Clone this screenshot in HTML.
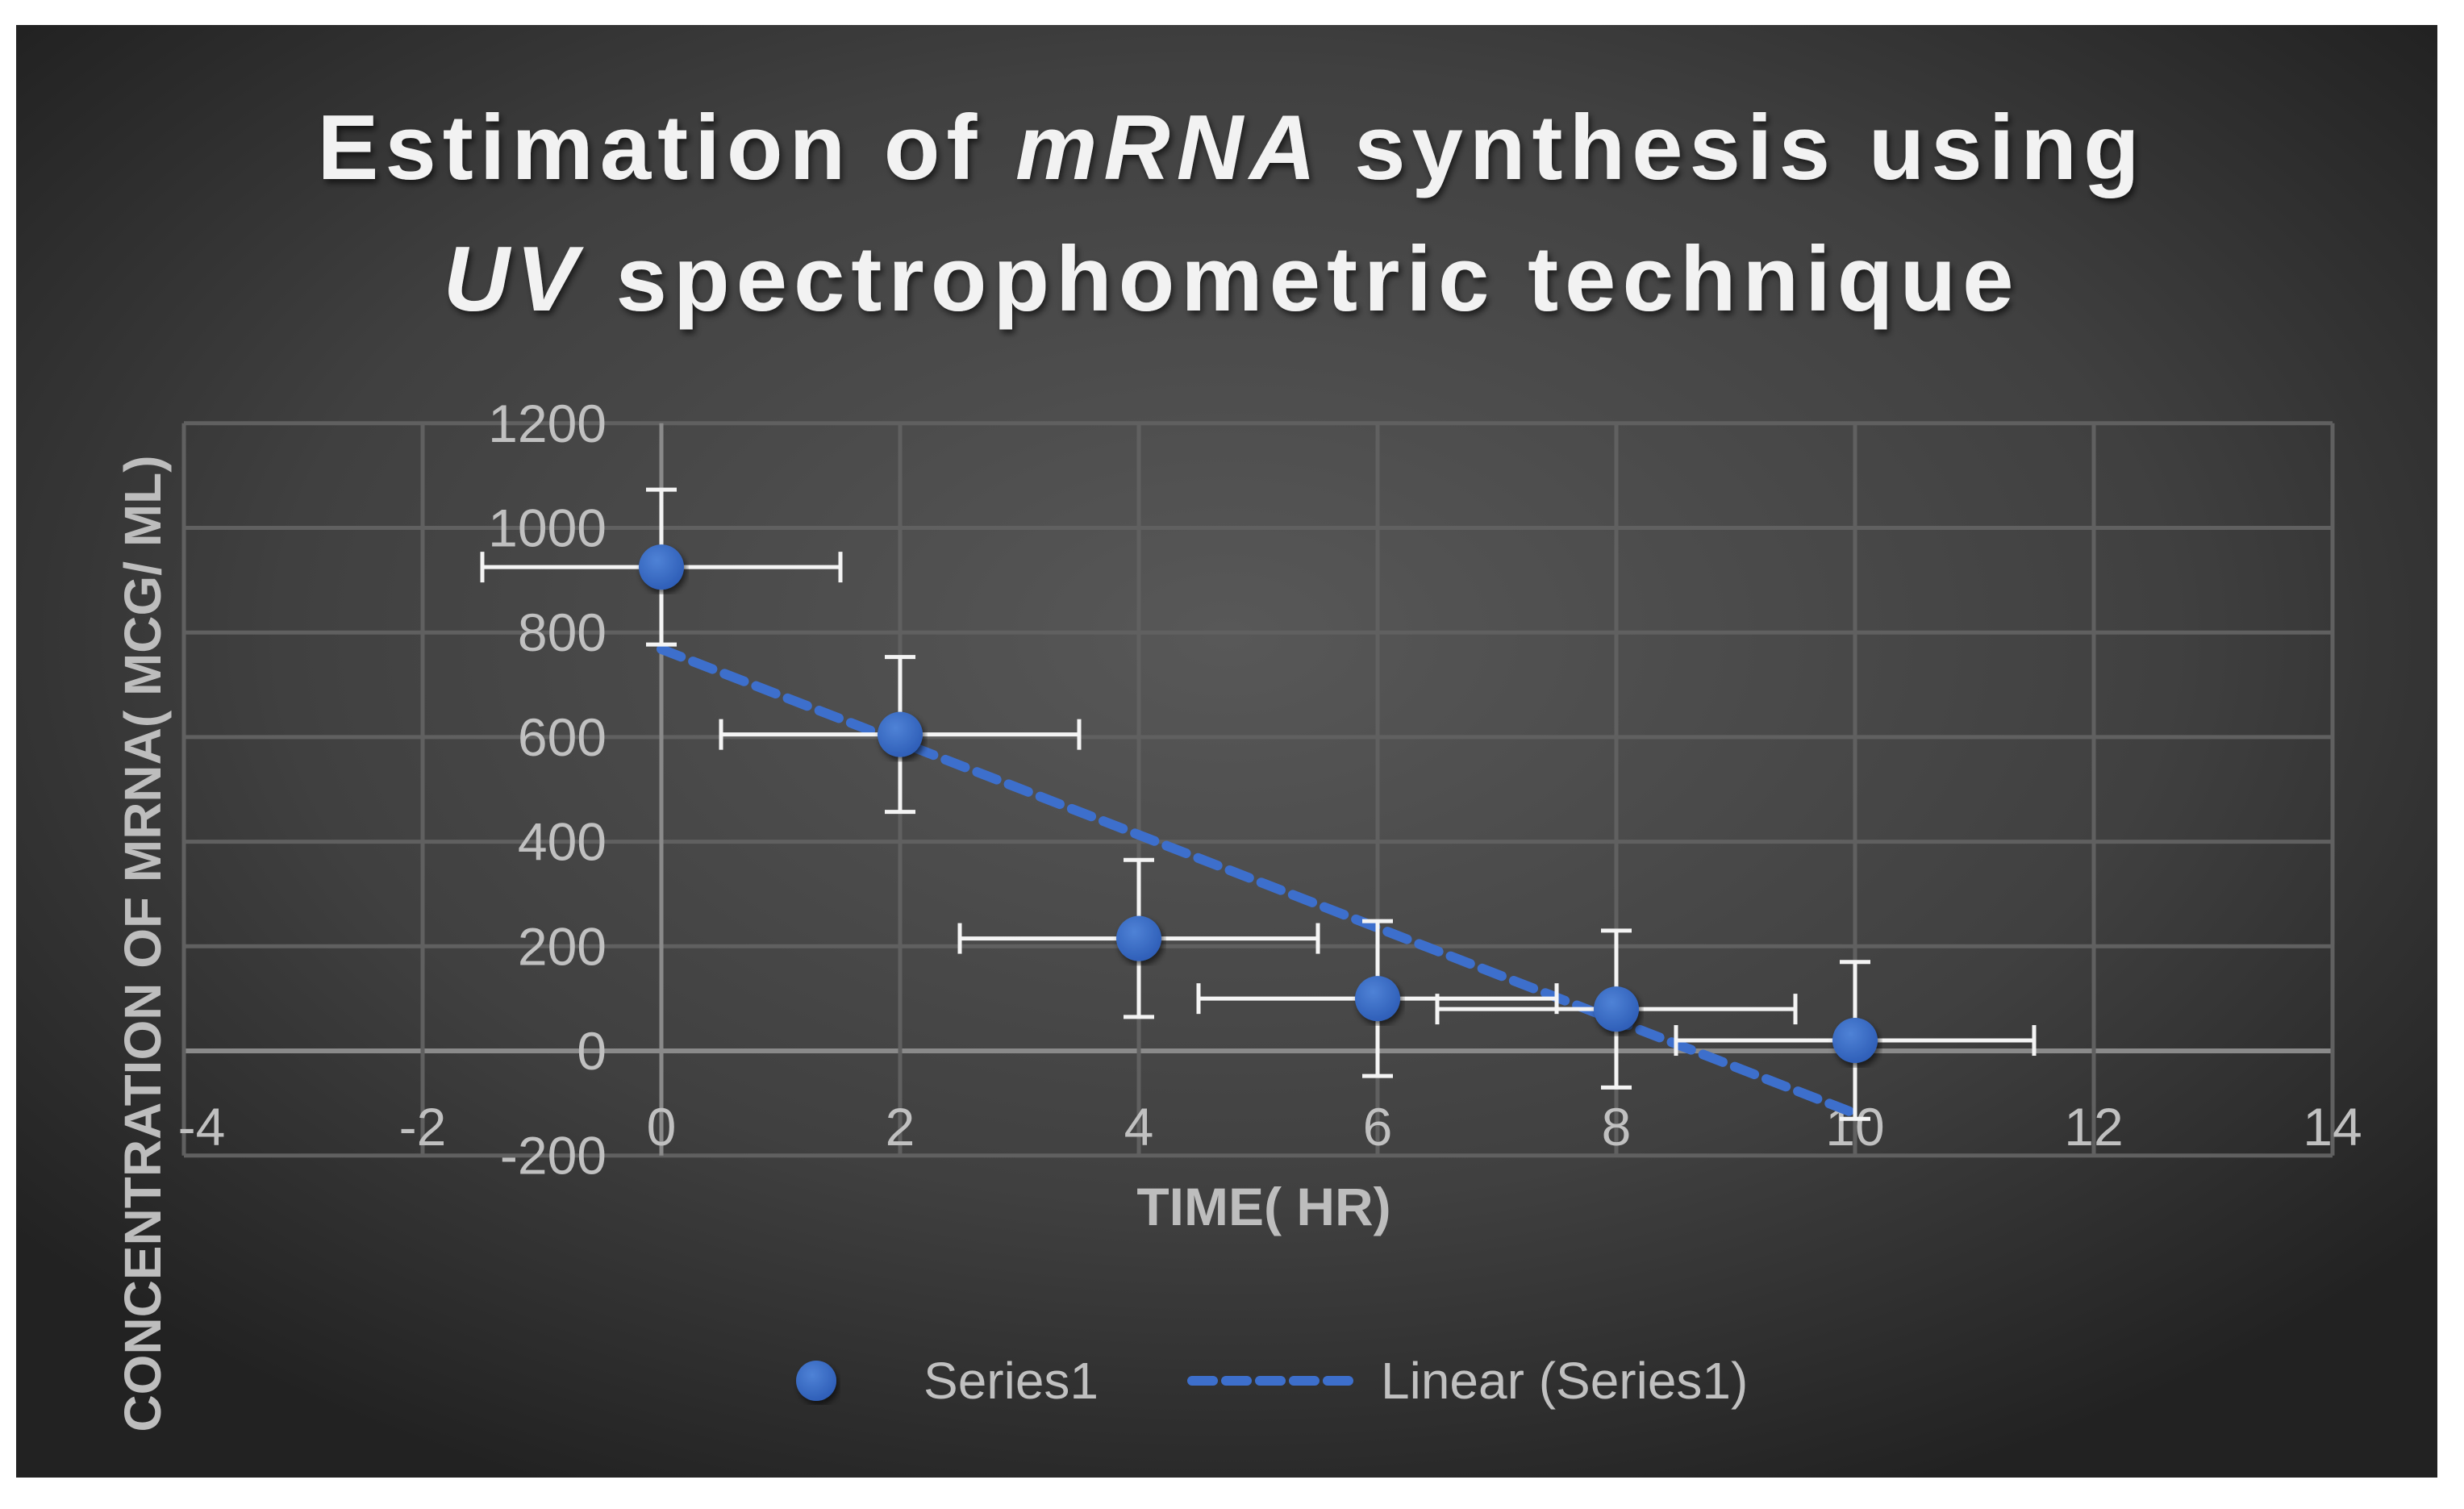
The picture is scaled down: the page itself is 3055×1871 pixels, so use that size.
<!DOCTYPE html>
<html><head><meta charset="utf-8"><style>
html,body{margin:0;padding:0;background:#fff;}
svg{display:block;}
text{font-family:"Liberation Sans",sans-serif;}
</style></head><body>
<svg id="chart" width="3055" height="1871" viewBox="0 0 3055 1871" xmlns="http://www.w3.org/2000/svg">
<defs>
<radialGradient id="bg" cx="50%" cy="42%" r="65%">
<stop offset="0" stop-color="#585858"/><stop offset="0.6" stop-color="#404040"/><stop offset="1" stop-color="#222"/>
</radialGradient>
<radialGradient id="dot" cx="40%" cy="35%" r="65%"><stop offset="0" stop-color="#4f82d6"/><stop offset="1" stop-color="#2f5fb8"/></radialGradient>
<filter id="sh"><feDropShadow dx="3" dy="5" stdDeviation="4" flood-color="#000" flood-opacity="0.6"/></filter>
</defs>
<rect x="20" y="31" width="3002" height="1801" fill="url(#bg)"/>
<g fill="#f2f2f2" font-weight="bold" font-size="114" text-anchor="middle" letter-spacing="8" filter="url(#sh)">
<text x="1527" y="222">Estimation of <tspan font-style="italic">mRNA</tspan> synthesis using</text>
<text x="1527" y="385"><tspan font-style="italic">UV</tspan> spectrophometric technique</text>
</g>
<g id="grid"></g>
<g id="ticks" fill="#c0c0c0" font-size="66"></g>
<g id="trend"></g>
<g id="errs"></g>
<g id="pts"></g>
<text x="1567" y="1519" fill="#bdbdbd" font-size="66" font-weight="bold" text-anchor="middle">TIME( HR)</text>
<text transform="translate(199,1170) rotate(-90)" fill="#bdbdbd" font-size="64" font-weight="bold" text-anchor="middle">CONCENTRATION OF MRNA( MCG/ ML)</text>
<g>
<circle cx="1012" cy="1712" r="25" fill="url(#dot)" filter="url(#sh)"/>
<text x="1145" y="1734" fill="#c0c0c0" font-size="64">Series1</text>
<line x1="1478" y1="1712" x2="1686" y2="1712" stroke="#3d6fcc" stroke-width="12" stroke-dasharray="26,16" stroke-linecap="round"/>
<text x="1712" y="1734" fill="#c0c0c0" font-size="64">Linear (Series1)</text>
</g>
</svg>
<script>
const xs=[0,2,4,6,8,10];
const ys=[925,605,215,100,80,20];
const yErr=[148,148,150,148,150,150];
const xErr=[1.5,1.5,1.5,1.5,1.5,1.5];
const xTicks=[-4,-2,0,2,4,6,8,10,12,14];
const yTicks=[-200,0,200,400,600,800,1000,1200];
const NS="http://www.w3.org/2000/svg";
const X=v=>820+(v-0)*148;
const Y=v=>1303-v*0.6485;
function mk(t,a,p){const e=document.createElementNS(NS,t);for(const k in a)e.setAttribute(k,a[k]);p.appendChild(e);return e;}
const grid=document.getElementById('grid'),ticks=document.getElementById('ticks');
yTicks.forEach(v=>{const l=mk('line',{x1:X(-4),x2:X(14),y1:Y(v),y2:Y(v),stroke:v===0?'#8a8a8a':'#606060','stroke-width':v===0?6:5},grid);


const t=mk('text',{x:752,y:Y(v)+23,'text-anchor':'end'},ticks);t.textContent=v;

});
xTicks.forEach(v=>{const l=mk('line',{x1:X(v),x2:X(v),y1:Y(1200),y2:Y(-200),stroke:v===0?'#8a8a8a':'#606060','stroke-width':5},grid);


const t=mk('text',{x:X(v)+(v===-4?22:0),y:1420,'text-anchor':'middle'},ticks);t.textContent=v;

});
// linear fit
const n=xs.length,mx=xs.reduce((a,b)=>a+b)/n,my=ys.reduce((a,b)=>a+b)/n;
let sxy=0,sxx=0;xs.forEach((x,i)=>{sxy+=(x-mx)*(ys[i]-my);sxx+=(x-mx)**2;});
const m=sxy/sxx,b=my-m*mx;
const tl=mk('line',{x1:X(xs[0]),y1:Y(m*xs[0]+b),x2:X(xs[n-1]),y2:Y(m*xs[n-1]+b),stroke:'#3d6fcc','stroke-width':12,'stroke-dasharray':'26,16','stroke-linecap':'round'},document.getElementById('trend'));


const errs=document.getElementById('errs'),pts=document.getElementById('pts');
xs.forEach((x,i)=>{const y=ys[i],g=mk('g',{stroke:'#f4f4f4','stroke-width':5},errs);


mk('line',{x1:X(x),x2:X(x),y1:Y(y-yErr[i]),y2:Y(y+yErr[i])},g);
mk('line',{x1:X(x)-19,x2:X(x)+19,y1:Y(y-yErr[i]),y2:Y(y-yErr[i])},g);
mk('line',{x1:X(x)-19,x2:X(x)+19,y1:Y(y+yErr[i]),y2:Y(y+yErr[i])},g);
mk('line',{x1:X(x-xErr[i]),x2:X(x+xErr[i]),y1:Y(y),y2:Y(y)},g);
mk('line',{x1:X(x-xErr[i]),x2:X(x-xErr[i]),y1:Y(y)-19,y2:Y(y)+19},g);
mk('line',{x1:X(x+xErr[i]),x2:X(x+xErr[i]),y1:Y(y)-19,y2:Y(y)+19},g);
const c=mk('circle',{cx:X(x),cy:Y(y),r:28,fill:'url(#dot)',filter:'url(#sh)'},pts);

});
</script>
</body></html>
